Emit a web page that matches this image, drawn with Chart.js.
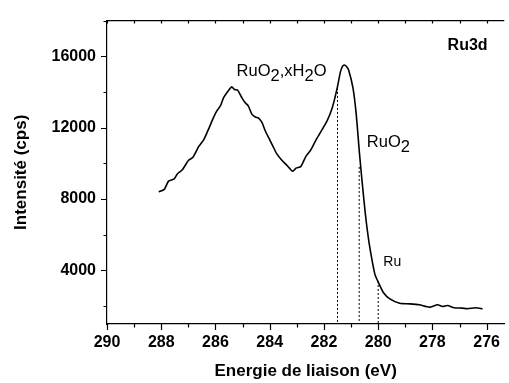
<!DOCTYPE html>
<html>
<head>
<meta charset="utf-8">
<script src="https://cdn.jsdelivr.net/npm/chart.js@4"></script>
<style>
  html, body { margin: 0; padding: 0; background: #fff; }
  canvas { display: block; }
</style>
</head>
<body>
<canvas id="xpsChart" width="509" height="383"></canvas>
<script>
// Ru3d spectrum, values
const energy = [288.09, 287.89, 287.73, 287.52, 287.40, 287.22, 287.00, 286.83, 286.61, 286.43,
    286.25, 286.07, 285.95, 285.82, 285.70, 285.52, 285.40, 285.30, 285.18, 285.03,
    284.91, 284.79, 284.66, 284.53, 284.41, 284.29, 284.17, 283.99, 283.87, 283.75,
    283.56, 283.38, 283.15, 283.03, 282.85, 282.67, 282.49, 282.30, 282.12, 281.88,
    281.69, 281.51, 281.39, 281.31, 281.25, 281.17, 281.09, 280.93, 280.81, 280.69,
    280.60, 280.48, 280.36, 280.24, 280.12, 279.99, 279.81, 279.57, 279.21, 278.84,
    278.48, 278.11, 277.81, 277.62, 277.44, 277.20, 276.90, 276.71, 276.41, 276.15];
const intensity = [8400, 8543, 9005, 9132, 9423, 9643, 10160, 10342, 10963, 11332,
    11937, 12580, 12943, 13218, 13680, 14082, 14285, 14137, 14098, 13680,
    13405, 13218, 12762, 12597, 12542, 12305, 11843, 11293, 10930, 10562,
    10193, 9918, 9555, 9737, 9830, 10380, 10743, 11293, 11755, 12393,
    13130, 14230, 15143, 15450, 15512, 15430, 15237, 14230, 12762, 10562,
    9093, 7262, 5793, 4693, 3780, 3318, 2768, 2405, 2163, 2130,
    2075, 1943, 2075, 1982, 2037, 1910, 1888, 1855, 1910, 1855];

// dotted markers: position (eV) and where they meet the curve (cps)
const markerEnergy = [281.5, 280.7, 280.0];
const markerTop = [14230, 9800, 3410];

const xTicks = [290, 288, 286, 284, 282, 280, 278, 276];
const yTicks = [4000, 8000, 12000, 16000];

const FONT = "'Liberation Sans', Arial, sans-serif";

const curve = energy.map((e, i) => ({ x: e, y: intensity[i] }));
const markerSets = markerEnergy.map((e, i) => ({
    data: [{ x: e, y: markerTop[i] }, { x: e, y: 1000 }],
    borderColor: '#000',
    borderWidth: 1,
    borderDash: [2, 2],
    pointRadius: 0,
    tension: 0
}));

// axis ticks, top frame and the peak labels
const decorations = {
    id: 'decorations',
    afterDraw(chart) {
        const ctx = chart.ctx;
        const x = chart.scales.x, y = chart.scales.y;
        const area = chart.chartArea;
        ctx.save();
        ctx.strokeStyle = '#000';
        ctx.lineWidth = 1.2;
        ctx.beginPath();
        ctx.moveTo(area.left, area.top);
        ctx.lineTo(area.right, area.top);
        for (let e = 276; e <= 290; e++) {
            const px = Math.round(x.getPixelForValue(e)) + 0.5;
            const len = e % 2 === 0 ? 6 : 3.5;
            ctx.moveTo(px, area.bottom);
            ctx.lineTo(px, area.bottom + len);
            ctx.moveTo(px, area.top);
            ctx.lineTo(px, area.top + 3);
        }
        for (let v = 2000; v <= 18000; v += 2000) {
            const py = Math.round(y.getPixelForValue(v)) + 0.5;
            const len = v % 4000 === 0 ? 6 : 3.5;
            ctx.moveTo(area.left, py);
            ctx.lineTo(area.left - len, py);
        }
        ctx.stroke();

        // labels with subscripts
        function richText(parts, ex, ey, size, weight) {
            let px = x.getPixelForValue(ex);
            const py = y.getPixelForValue(ey);
            ctx.font = weight + ' ' + size + 'px ' + FONT;
            ctx.fillStyle = '#000';
            ctx.textBaseline = 'alphabetic';
            ctx.textAlign = 'left';
            parts.forEach(p => {
                ctx.fillText(p.t, px, py + (p.sub ? 5 : 0));
                px += ctx.measureText(p.t).width;
            });
        }
        richText([{ t: 'RuO' }, { t: '2', sub: true }, { t: ',xH' }, { t: '2', sub: true }, { t: 'O' }],
            285.22, 14907, 16.5, 'normal');
        richText([{ t: 'RuO' }, { t: '2', sub: true }], 280.42, 10892, 16.5, 'normal');
        richText([{ t: 'Ru' }], 279.81, 4236, 14, 'normal');
        richText([{ t: 'Ru3d' }], 277.44, 16337, 16, 'bold');
        ctx.restore();
    }
};

const ctx = document.getElementById('xpsChart').getContext('2d');

const xpsChart = new Chart(ctx, {
    type: 'line',
    data: {
        datasets: [{
            data: curve,
            borderColor: '#000',
            borderWidth: 1.6,
            pointRadius: 0,
            tension: 0.2
        }, ...markerSets]
    },
    options: {
        responsive: false,
        animation: false,
        devicePixelRatio: 1,
        layout: { padding: { top: 15, right: 0, left: 0, bottom: 0 } },
        plugins: { legend: { display: false }, tooltip: { enabled: false } },
        scales: {
            x: {
                type: 'linear',
                reverse: true,
                min: 275.35,
                max: 290,
                afterBuildTicks: (s) => { s.ticks = xTicks.map(v => ({ value: v })); },
                afterFit: (s) => { s.height = 59; },
                grid: { display: false, drawTicks: false },
                border: { display: true, color: '#000', width: 1.2 },
                ticks: {
                    padding: 9,
                    color: '#000',
                    maxRotation: 0,
                    callback: (v) => String(v),
                    font: { family: FONT, size: 16, weight: 'bold' }
                },
                title: {
                    display: true,
                    text: 'Energie de liaison (eV)',
                    color: '#000',
                    padding: { top: 0, bottom: 1 },
                    font: { family: FONT, size: 17, weight: 'bold' }
                }
            },
            y: {
                min: 1000,
                max: 18000,
                afterBuildTicks: (s) => { s.ticks = yTicks.map(v => ({ value: v })); },
                afterFit: (s) => { s.width = 107; },
                grid: { display: false, drawTicks: false },
                border: { display: true, color: '#000', width: 1.2 },
                ticks: {
                    padding: 11,
                    color: '#000',
                    callback: (v) => String(v),
                    font: { family: FONT, size: 16, weight: 'bold' }
                },
                title: {
                    display: true,
                    text: 'Intensité (cps)',
                    color: '#000',
                    padding: { top: 11, bottom: 0 },
                    font: { family: FONT, size: 17, weight: 'bold' }
                }
            }
        }
    },
    plugins: [decorations]
});
</script>
</body>
</html>
